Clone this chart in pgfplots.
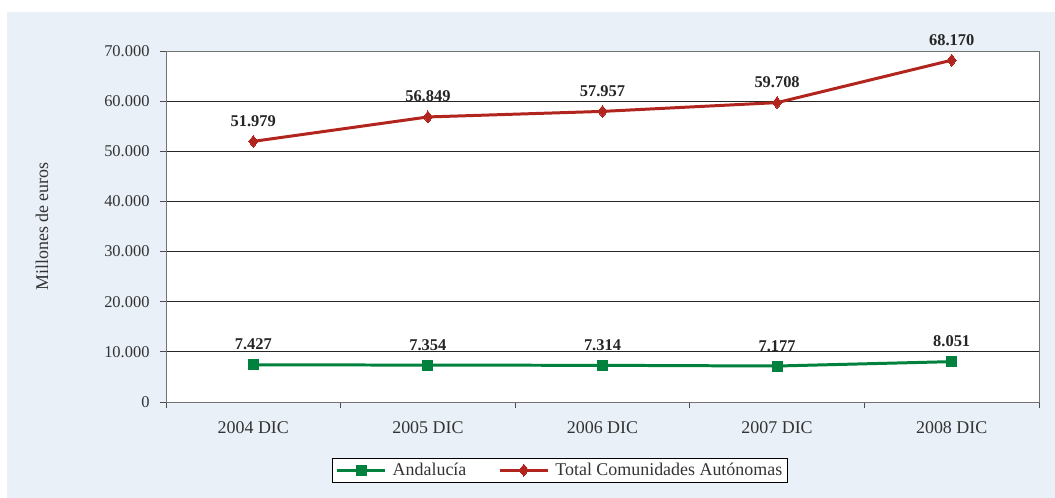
\documentclass[border=0pt]{standalone}
\usepackage{fontspec}
\setmainfont{Liberation Serif}
\usepackage{pgfplots}
\pgfplotsset{compat=1.18}

\definecolor{bgblue}{RGB}{233,240,247}
\definecolor{andgreen}{RGB}{0,130,62}
\definecolor{ccaared}{RGB}{178,36,30}
\newcommand\fs{\fontsize{16.5}{20}\selectfont}
\newcommand\fl{\fontsize{18}{21}\selectfont}

\begin{document}
\begin{tikzpicture}
  \path[use as bounding box] (0,0) rectangle (1055bp,498bp);
  \fill[bgblue] (7bp,0) rectangle (1055bp,486bp);
  \begin{axis}[
    at={(166bp,96bp)}, anchor=south west,
    scale only axis, width=873bp, height=351bp,
    axis background/.style={fill=white},
    xmin=-0.5, xmax=4.5, ymin=0, ymax=70000,
    xtick={0,...,4},
    xticklabels={2004 DIC,2005 DIC,2006 DIC,2007 DIC,2008 DIC},
    major x tick style={draw=none},
    minor xtick={-0.5,0.5,1.5,2.5,3.5,4.5},
    minor tick length=6bp,
    ytick={0,10000,...,70000},
    major tick length=6bp,
    tick align=outside, tick pos=left,
    tick style={black!70, line width=0.8pt},
    axis line style={black!55, line width=1pt},
    ymajorgrids, grid style={black!85, line width=0.8pt},
    /pgf/number format/.cd, 1000 sep={.}, assume math mode=true, /pgfplots/.cd,
    scaled y ticks=false,
    tick label style={font=\fs, text=black!80},
    xticklabel style={font=\fl, yshift=-10bp},
    yticklabel style={xshift=-7bp},
    ylabel={Millones de euros},
    ylabel style={font=\fl, text=black!80, at={(rel axis cs:-0.142,0.5)}, anchor=center},
    nodes near coords,
    every node near coord/.append style={font=\fs\bfseries, text=black!85, anchor=base, yshift=15bp},
    legend columns=2,
    legend style={at={(rel axis cs:0.4513,-0.194)}, anchor=center, draw=black, fill=white,
      font=\fl, text=black!80, line width=0.8pt, inner ysep=3bp,
      /tikz/every odd column/.append style={column sep=4bp},
      /tikz/every even column/.append style={column sep=30bp}},
    legend image code/.code={
      \draw[#1, line width=3pt] (0bp,0bp) -- (48bp,0bp);
      \draw[#1, mark repeat=2, mark phase=2] plot coordinates {(0bp,0bp) (24bp,0bp) (48bp,0bp)};},
  ]
    \addplot[andgreen, line width=3pt, mark=square*, mark size=5bp,
      mark options={line width=0pt}] coordinates {
      (0,7427) (1,7354) (2,7314) (3,7177) (4,8051) };
    \addlegendentry{Andalucía}
    \addplot[ccaared, line width=3pt, mark=diamond*, mark size=6bp,
      mark options={line width=0pt}] coordinates {
      (0,51979) (1,56849) (2,57957) (3,59708) (4,68170) };
    \addlegendentry{Total Comunidades Autónomas}
  \end{axis}
\end{tikzpicture}
\end{document}
